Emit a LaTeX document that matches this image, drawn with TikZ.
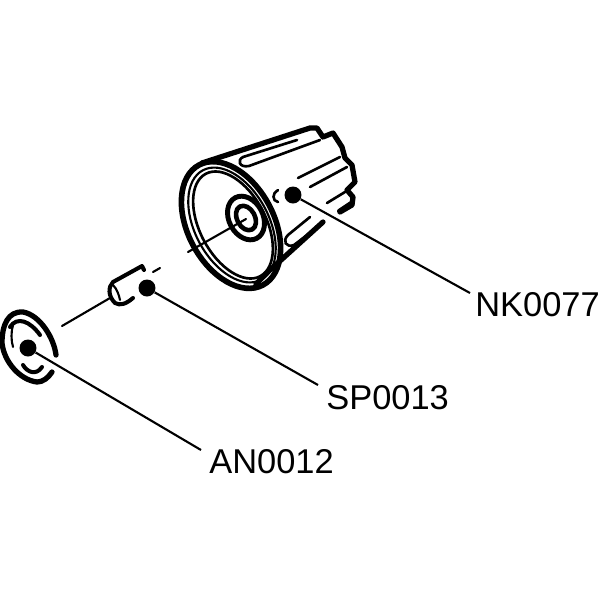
\documentclass[tikz,border=0pt]{standalone}
\usepackage{fontspec}
\setmainfont{Liberation Sans}
\usetikzlibrary{calc}
\tikzset{>=latex}
\tikzset{thick line/.style={line width=2.3pt, line join=round, line cap=round}}
\tikzset{thin line/.style={line width=1.2pt, line cap=round}}
\tikzset{leader/.style={line width=1.2pt}}
\tikzset{part dot/.style={circle, fill=black, inner sep=0pt, minimum size=0.34cm}}
\tikzset{part label/.style={anchor=west, inner sep=0pt, font=\fontsize{19.6}{20}\selectfont}}
\begin{document}
\begin{tikzpicture}[x=0.02cm, y=-0.02cm]
\useasboundingbox (0,0) rectangle (600,600);
% axis
\draw[thin line] (188,252) -- (246,219);
\draw[thin line] (153,272) -- (160,268);
\draw[thin line] (62,326) -- (110,298);
% knob
\draw[thick line, line width=3pt] (202,163) -- (310,128) -- (317,128) -- (323,137) -- (333,133) -- (342,147) -- (345,158) -- (352,165) -- (355,182) -- (347,190) -- (353,197) -- (352,205) -- (340,212);
\draw[thick line, line width=3pt] (323,222) -- (270,270) -- (256,284);
\draw[thick line, line width=3.2pt, shift={(231,225)}, rotate=-62] (0,0) ellipse [x radius=68, y radius=43];
\draw[thin line, shift={(232,225)}, rotate=-62] (0,0) ellipse [x radius=62, y radius=37];
\draw[thin line, line width=1.5pt, shift={(233,225)}, rotate=-62] (0,0) ellipse [x radius=58, y radius=33];
\draw[thick line, line width=2.8pt, shift={(246,218)}, rotate=-62] (0,0) ellipse [x radius=23, y radius=17];
\draw[thick line, line width=2.6pt, shift={(246,218)}, rotate=-62] (0,0) ellipse [x radius=13, y radius=9];
% grooves
\draw[thin line, line width=1.5pt] (243,157) -- (297,140);
\draw[thin line, line width=1.5pt] (243,157) .. controls (237,160) and (239,168) .. (249,166) -- (320,140);
\draw[thin line, line width=1.5pt] (298,178) -- (340,157);
\draw[thin line, line width=1.5pt] (310,187) -- (347,167);
\draw[thin line, line width=1.5pt] (327,203) -- (345,192);
\draw[thick line] (339,211) -- (351,203);
\draw[thin line, line width=1.5pt] (310,217) -- (288,235) .. controls (282,241) and (286,248) .. (294,245) -- (323,223);
\draw[thin line, line width=1.5pt] (278,190) .. controls (272,193) and (272,201) .. (278,202);
% spacer
\draw[thick line] (144,270) -- (142,266) -- (113,282) .. controls (108,287) and (108,296) .. (115,303) .. controls (120,306) and (126,304) .. (133,298);
\draw[thin line] (113,285) .. controls (117,289) and (119,295) .. (120,300);
% washer
\draw[thick line, line width=3pt] (56,355) .. controls (54,338) and (40,315) .. (23,312) .. controls (8,311) and (2,325) .. (2,343) .. controls (4,362) and (20,380) .. (37,382) .. controls (43,382) and (48,378) .. (52,372);
\draw[thick line] (10,327) .. controls (17,316) and (30,321) .. (40,335);
\draw[thin line] (13,325) .. controls (11,332) and (11,340) .. (13,347);
\draw[thick line] (23,365) .. controls (27,372) and (36,376) .. (42,367);
% leaders
\node[part dot] (nkdot) at (293,195) {};
\node[part dot] (spdot) at (147,288) {};
\node[part dot] (andot) at (28,348) {};
\node[part label] (nklabel) at (475,305) {NK0077};
\node[part label] (splabel) at (326,398) {SP0013};
\node[part label] (anlabel) at (209,462) {AN0012};
\coordinate (nkend) at (470,293);
\coordinate (spend) at (318,385);
\coordinate (anend) at (201,450);
\draw[leader] (nkdot) -- (nkend);
\draw[leader] (spdot) -- (spend);
\draw[leader] (andot) -- (anend);
\end{tikzpicture}
\end{document}
